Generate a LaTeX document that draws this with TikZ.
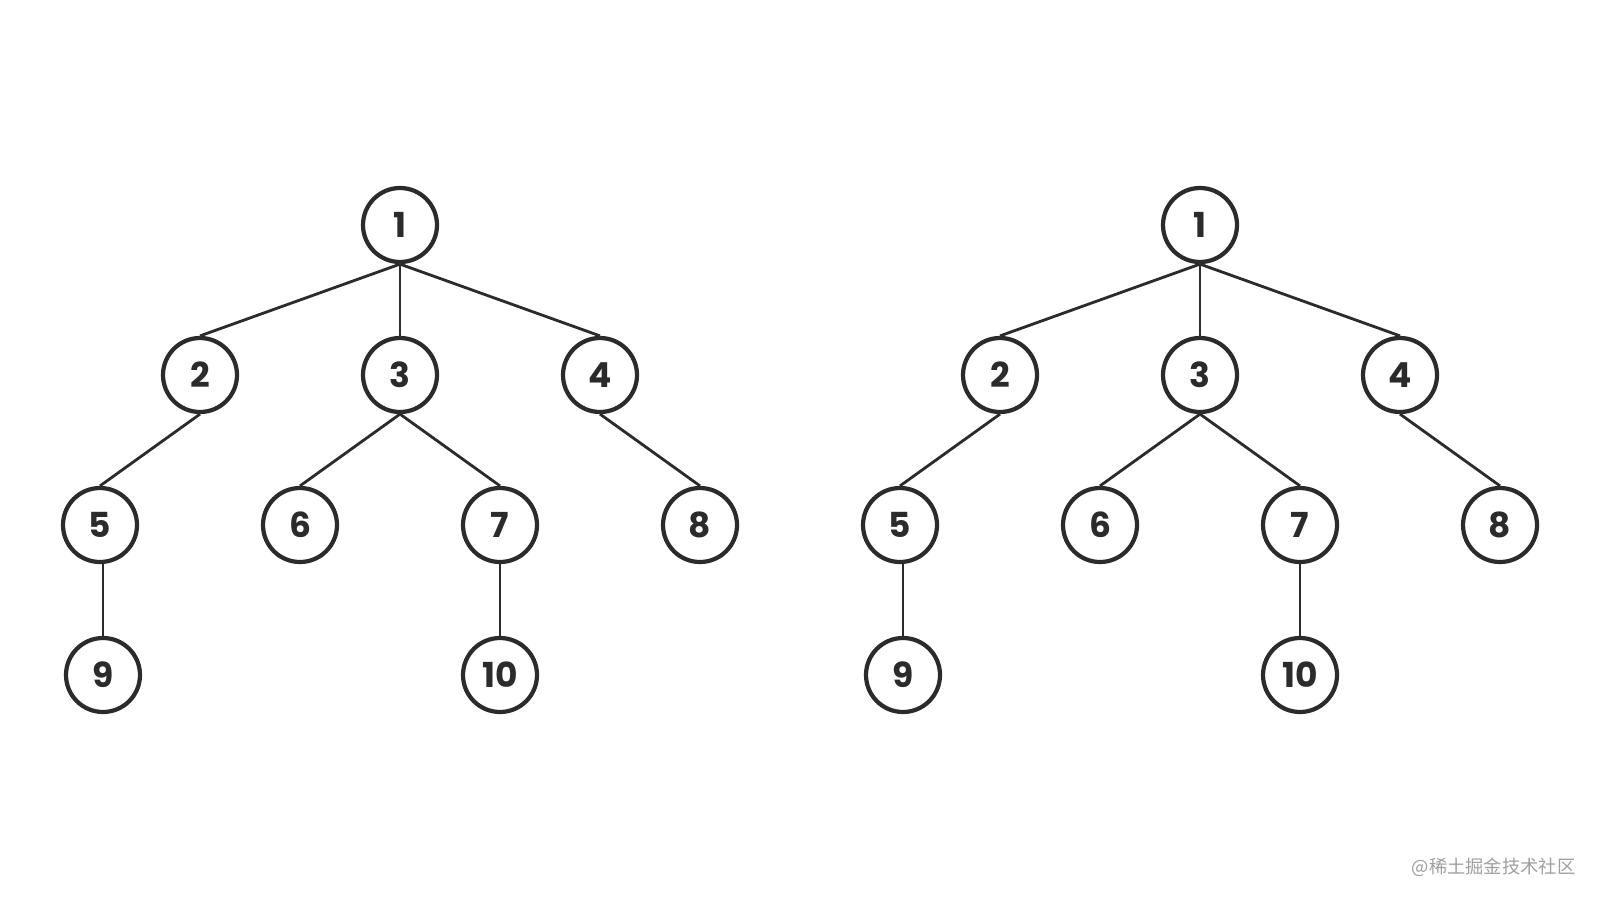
\documentclass[tikz,border=0pt]{standalone}
\usepackage{fontspec}
\setmainfont{Poppins}
\newfontfamily\cjkfont{Noto Sans CJK SC}
\definecolor{treeink}{RGB}{43,43,43}
\definecolor{markgray}{RGB}{160,160,160}
\usetikzlibrary{positioning}

\begin{document}
\begin{tikzpicture}[
  tnode/.style={circle, draw=treeink, line width=1.2pt, fill=white,
                minimum size=0.74cm, inner sep=0pt,
                font=\fontsize{9.8}{9.8}\selectfont\bfseries, text=treeink},
  tedge/.style={draw=treeink, line width=0.8pt}
]
\useasboundingbox[fill=white] (0,0) rectangle (16,9);

% Both trees, the second one shifted right
\foreach \t/\dx in {a/0, b/8} {
  \begin{scope}[xshift=\dx cm]
    \node[tnode] (\t1)  at (4.00,6.75) {1};
    \node[tnode] (\t2)  at (2.00,5.25) {2};
    \node[tnode] (\t3)  at (4.00,5.25) {3};
    \node[tnode] (\t4)  at (6.00,5.25) {4};
    \node[tnode] (\t5)  at (1.00,3.75) {5};
    \node[tnode] (\t6)  at (3.00,3.75) {6};
    \node[tnode] (\t7)  at (5.00,3.75) {7};
    \node[tnode] (\t8)  at (7.00,3.75) {8};
    \node[tnode] (\t9)  at (1.03,2.25) {9};
    \node[tnode] (\t10) at (5.00,2.25) {10};

    % Edges
    \draw[tedge] (\t1.south) -- (\t2.north);
    \draw[tedge] (\t1.south) -- (\t3.north);
    \draw[tedge] (\t1.south) -- (\t4.north);
    \draw[tedge] (\t2.south) -- (\t5.north);
    \draw[tedge] (\t3.south) -- (\t6.north);
    \draw[tedge] (\t3.south) -- (\t7.north);
    \draw[tedge] (\t4.south) -- (\t8.north);
    \draw[tedge] (\t9.north |- \t5.south) -- (\t9.north);
    \draw[tedge] (\t7.south) -- (\t10.north);
  \end{scope}
}

% Watermark
\node[anchor=east, inner sep=0pt, text=markgray, font=\cjkfont\fontsize{5.2}{5.2}\selectfont]
  (mark) at (15.76,0.33) {@稀土掘金技术社区};
\end{tikzpicture}
\end{document}
